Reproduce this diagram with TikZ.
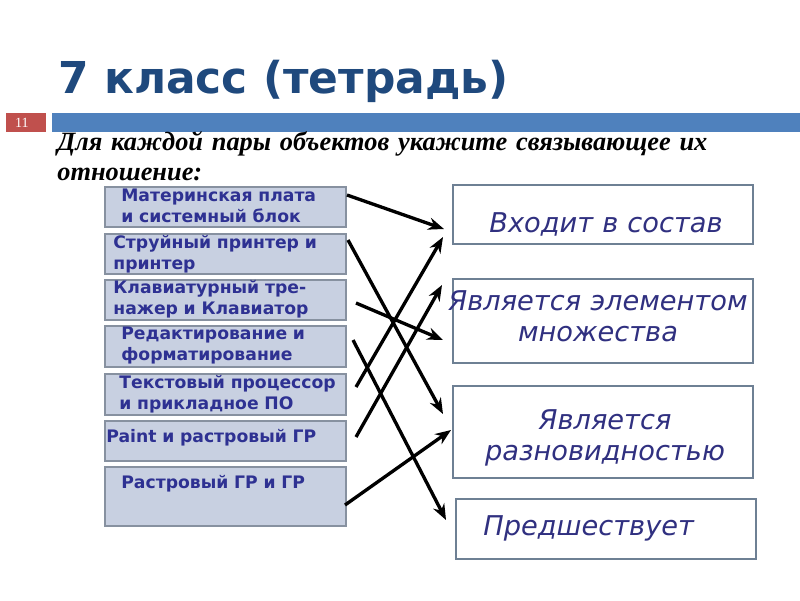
\documentclass[tikz,border=0pt]{standalone}
\usepackage{fontspec}
\setmainfont{Liberation Serif}
\setsansfont{DejaVu Sans}
\usetikzlibrary{arrows.meta,positioning}
\definecolor{titleblue}{RGB}{31,73,125}
\definecolor{slidered}{RGB}{192,80,77}
\definecolor{slideblue}{RGB}{79,129,189}
\definecolor{pairfill}{RGB}{200,208,225}
\definecolor{pairline}{RGB}{135,145,160}
\definecolor{pairink}{RGB}{46,49,146}
\definecolor{relline}{RGB}{110,128,148}
\definecolor{relink}{RGB}{48,48,128}
\tikzset{%
  pairbox/.style={draw=pairline, fill=pairfill, line width=0.9pt, anchor=north west,
    minimum width=4.82cm, inner sep=0},
  pairtext/.style={anchor=base west, inner sep=0, text width=4.7cm, align=left,
    text=pairink, font=\sffamily\bfseries\fontsize{9.8}{12.4}\selectfont},
  relbox/.style={draw=relline, fill=white, line width=1.1pt, anchor=north west,
    minimum width=6cm, inner sep=0},
  reltext/.style={anchor=base, inner sep=0, text width=6cm, align=center,
    text=relink, font=\sffamily\itshape\fontsize{15.5}{18}\selectfont},
  link/.style={line width=1.9pt, -{Stealth[length=9pt,width=7pt]}}
}
\begin{document}
\begin{tikzpicture}[x=0.02cm,y=-0.02cm]
\useasboundingbox[fill=white] (0,0) rectangle (800,600);

% header
\fill[slidered] (6,113) rectangle (46,132);
\fill[slideblue] (52,113) rectangle (800,132);
\node[text=white, font=\rmfamily\fontsize{8}{8}\selectfont] (num) at (22,122.5) {11};
\node[anchor=base west, inner sep=0, text=titleblue,
  font=\sffamily\bfseries\fontsize{25}{30}\selectfont] (title) at (58,93) {7 класс (тетрадь)};
\node[anchor=base west, inner sep=0, text width=15cm, align=left,
  font=\rmfamily\bfseries\itshape\fontsize{15}{17.6}\selectfont] (task) at (57,150)
  {Для каждой пары объектов укажите связывающее их\\отношение:};

% left column
\node[pairbox, minimum height=0.80cm] (l1) at (104,186) {};
\node[pairbox, minimum height=0.80cm] (l2) at (104,233) {};
\node[pairbox, minimum height=0.80cm] (l3) at (104,279) {};
\node[pairbox, minimum height=0.82cm] (l4) at (104,325) {};
\node[pairbox, minimum height=0.82cm] (l5) at (104,373) {};
\node[pairbox, minimum height=0.80cm] (l6) at (104,420) {};
\node[pairbox, minimum height=1.18cm] (l7) at (104,466) {};

\node[pairtext] (t1) at (121,201) {Материнская плата\\и системный блок};
\node[pairtext] (t2) at (113,248) {Струйный принтер и\\принтер};
\node[pairtext] (t3) at (113,293) {Клавиатурный тре-\\нажер и Клавиатор};
\node[pairtext] (t4) at (121,339) {Редактирование и\\форматирование};
\node[pairtext] (t5) at (119,388) {Текстовый процессор\\и прикладное ПО};
\node[pairtext] (t6) at (106,442) {Paint и растровый ГР};
\node[pairtext] (t7) at (121,488) {Растровый ГР и ГР};

% right column
\node[relbox, minimum height=1.18cm] (ra) at (452,184) {};
\node[relbox, minimum height=1.68cm] (rb) at (452,278) {};
\node[relbox, minimum height=1.84cm] (rc) at (452,385) {};
\node[relbox, minimum height=1.20cm] (rd) at (455,498) {};

\node[reltext] (ta) at (606,232) {Входит в состав};
\node[reltext] (tb) at (598,310) {Является элементом\\множества};
\node[reltext] (tc) at (605,429) {Является\\разновидностью};
\node[reltext, anchor=base west, align=left] (td) at (483,535) {Предшествует};

% arrow ends
\coordinate (s1) at (347,195); \coordinate (e1) at (444,229);
\coordinate (s2) at (348,240); \coordinate (e2) at (443,414);
\coordinate (s3) at (356,303); \coordinate (e3) at (443,340);
\coordinate (s4) at (353,340); \coordinate (e4) at (446,520);
\coordinate (s5) at (356,387); \coordinate (e5) at (443,237);
\coordinate (s6) at (356,437); \coordinate (e6) at (442,285);
\coordinate (s7) at (345,505); \coordinate (e7) at (451,430);

\foreach \i in {1,...,7}
  \draw[link] (s\i) -- (e\i);
\end{tikzpicture}
\end{document}
